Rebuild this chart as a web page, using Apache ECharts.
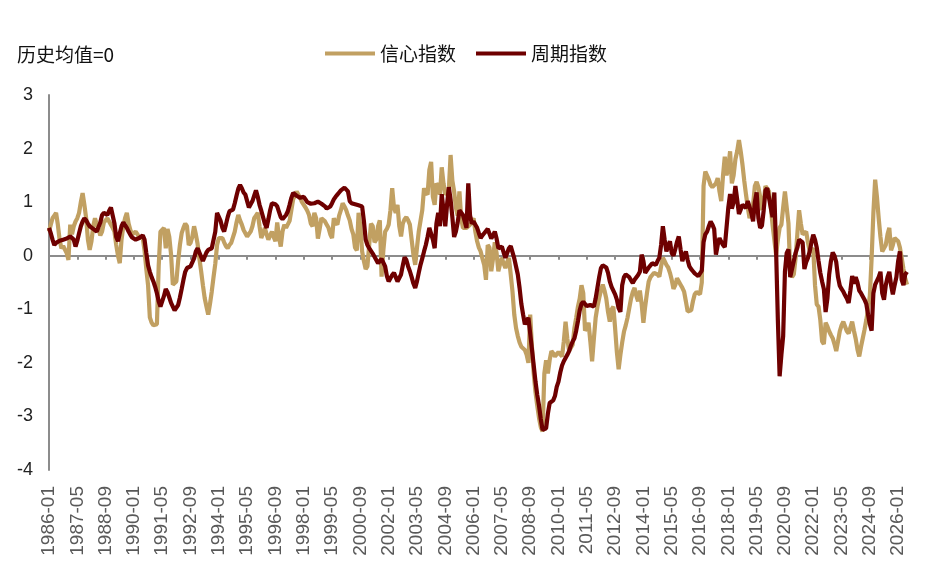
<!DOCTYPE html>
<html>
<head>
<meta charset="utf-8">
<script src="https://cdn.jsdelivr.net/npm/echarts@6/dist/echarts.min.js"></script>
<style>html,body{margin:0;padding:0;background:#fff}#c{width:929px;height:569px}</style>
</head>
<body>
<div id="c"></div>
<script>
// Monthly categories 1986-01 .. 2026-06
var startYear = 1986, startMonth = 1, monthCount = 486;
var categories = [];
for (var k = 0; k < monthCount; k++) {
  var y = startYear + Math.floor((startMonth - 1 + k) / 12);
  var m = (startMonth - 1 + k) % 12 + 1;
  categories.push(y + '-' + (m < 10 ? '0' + m : m));
}
var seriesNames = ['信心指数', '周期指数'];
var yTicks = { min: -4, max: 3, step: 1 };

// 信心指数 (one row per year)
var confidence = [
 .45,.58,.70,.75,.80,.58,.30,.14,.18,.20,.05,-.08,
 .58,.40,.55,.64,.70,.80,1.00,1.17,.95,.70,.30,.11,
 .27,.55,.70,.58,.50,.38,.45,.62,.66,.70,.64,.58,
 .52,.45,.20,.00,-.14,.30,.55,.70,.80,.60,.48,.40,
 .42,.45,.40,.34,.33,.33,.10,-.25,-.55,-1.15,-1.25,-1.30,
 -1.32,-1.28,-.20,.45,.48,.52,.14,.50,.35,.02,-.54,-.52,
 -.48,-.10,.20,.42,.52,.60,.55,.20,.24,.35,.55,.40,
 .22,-.05,-.29,-.55,-.79,-.95,-1.10,-.90,-.67,-.40,-.15,.20,
 .33,.30,.33,.25,.18,.14,.20,.24,.27,.45,.62,.76,
 .66,.58,.48,.42,.36,.33,.45,.55,.70,.75,.80,.55,
 .33,.42,.52,.40,.30,.38,.45,.35,.27,.62,.35,.17,
 .45,.58,.52,.50,.65,.85,1.05,1.12,1.20,1.14,1.08,1.00,
 .95,.90,.84,.76,.60,.55,.80,.70,.32,.50,.70,.68,
 .64,.58,.52,.40,.33,.70,.62,.58,.75,.85,.98,.92,
 .85,.75,.66,.50,.40,.15,.10,.80,.55,.08,-.10,-.25,
 -.20,.20,.60,.55,.25,.30,.55,.66,-.39,.10,.45,.50,
 .58,.85,1.26,.90,.80,.95,.55,.36,.60,.68,.72,.66,
 .58,.30,.02,-.17,.15,.45,.65,.85,1.26,1.18,1.14,1.60,
 1.75,1.10,.95,1.35,1.30,1.14,1.65,1.35,1.14,1.18,1.22,1.88,
 1.40,1.20,.90,.75,1.20,.70,.52,.50,.52,.55,.58,.64,
 .70,.45,.27,.15,.08,-.05,-.17,-.45,.20,.15,-.29,-.05,
 .25,.05,-.29,-.15,-.04,-.15,-.23,-.12,-.04,-.35,-.67,-1.10,
 -1.35,-1.50,-1.62,-1.70,-1.72,-1.76,-1.85,-2.00,-1.10,-1.70,-2.20,-2.55,
 -2.80,-3.03,-3.20,-3.28,-2.20,-1.95,-2.20,-1.95,-1.78,-1.82,-1.88,-1.85,
 -1.80,-1.78,-1.88,-1.60,-1.23,-1.55,-1.78,-1.72,-1.66,-1.35,-1.16,-.95,
 -.80,-.55,-.70,-1.40,-1.35,-1.25,-1.60,-1.97,-1.55,-1.16,-.95,-.79,
 -.65,-.54,-.65,-.80,-1.05,-1.23,-1.00,-.95,-1.35,-1.80,-2.12,-1.85,
 -1.62,-1.42,-1.30,-1.16,-.98,-.80,-.68,-.60,-.75,-.85,-.65,-.90,
 -1.25,-.95,-.70,-.48,-.40,-.36,-.32,-.29,-.35,-.39,-.20,-.04,
 -.10,-.17,-.22,-.32,-.45,-.62,-.55,-.42,-.48,-.54,-.60,-.67,
 -.85,-1.04,-1.06,-1.02,-.85,-.72,-.68,-.67,-.72,-.50,1.30,1.57,
 1.55,1.42,1.32,1.28,1.26,1.35,1.45,1.20,1.02,1.50,1.85,1.50,
 1.65,1.95,1.35,1.50,1.80,1.95,2.16,1.95,1.70,1.40,1.14,.90,
 .70,.82,.95,1.30,1.38,1.28,1.10,.85,1.00,1.30,1.28,1.20,
 .90,.58,.30,.02,.30,.52,.58,.90,1.20,1.22,.60,-.29,
 -.40,-.35,-.05,.40,.85,.60,.40,.42,.45,.25,.08,.10,
 .14,-.55,-.91,-.95,-1.20,-1.60,-1.65,-1.25,-1.32,-1.41,-1.48,-1.54,
 -1.65,-1.78,-1.60,-1.41,-1.30,-1.23,-1.32,-1.41,-1.45,-1.47,-1.23,-1.40,
 -1.55,-1.75,-1.88,-1.70,-1.54,-1.38,-1.20,-1.00,-.75,-.05,.80,1.42,
 1.10,.70,.35,.08,.05,.20,.40,.52,.10,.20,.33,.30,
 .27,.15,-.04,-.25,-.42,-.54
];

// 周期指数 (one row per year)
var cycle = [
 .52,.42,.30,.20,.24,.26,.28,.25,.30,.28,.32,.35,
 .36,.38,.30,.17,.28,.42,.55,.64,.70,.66,.60,.55,
 .52,.50,.48,.45,.45,.62,.76,.80,.78,.76,.84,.90,
 .92,.60,.35,.27,.42,.55,.62,.64,.52,.45,.39,.34,
 .32,.30,.30,.33,.36,.38,.30,.05,-.18,-.30,-.40,-.48,
 -.58,-.70,-.85,-.95,-.98,-.75,-.62,-.68,-.78,-.88,-.95,-1.02,
 -1.04,-.92,-.78,-.62,-.45,-.30,-.23,-.22,-.20,-.17,-.05,.08,
 .14,.06,-.02,-.10,-.02,.06,.11,.13,.14,.16,.45,.80,
 .78,.65,.52,.45,.58,.72,.83,.85,.86,.98,1.12,1.25,
 1.32,1.26,1.18,1.14,1.02,.90,.90,1.02,1.12,1.22,1.10,.95,
 .84,.72,.60,.52,.68,.85,.98,.97,.96,.92,.82,.72,
 .68,.70,.76,.83,.95,1.08,1.17,1.14,1.12,1.10,1.08,1.10,
 1.10,1.05,1.00,.98,.97,.98,.98,1.00,1.01,.99,.97,.95,
 .92,.88,.86,.92,.98,1.05,1.10,1.14,1.18,1.22,1.25,1.27,
 1.29,1.20,1.02,.98,.97,.96,.95,.94,.93,.92,.65,.30,
 .20,.14,.09,.04,-.02,-.08,-.14,-.10,-.06,-.04,-.20,-.38,
 -.48,-.42,-.36,-.32,-.40,-.48,-.50,-.35,-.18,-.03,-.08,-.20,
 -.29,-.40,-.52,-.60,-.48,-.32,-.17,-.05,.08,.20,.35,.52,
 .55,.30,.14,.60,.80,.55,1.15,.85,.55,.95,1.28,1.05,
 .72,.35,.45,.62,.85,.82,.76,.64,.52,1.35,.75,.60,
 .64,.58,.52,.42,.33,.38,.42,.46,.50,.50,.32,.38,
 .45,.32,.14,.16,.17,.06,-.04,.05,.14,.18,.20,-.05,
 -.20,-.35,-.60,-.90,-1.10,-1.28,-1.22,-1.16,-1.45,-1.75,-2.05,-2.35,
 -2.60,-2.80,-3.05,-3.25,-3.28,-3.22,-2.95,-2.75,-2.72,-2.70,-2.62,-2.45,
 -2.35,-2.18,-2.05,-1.97,-1.91,-1.85,-1.78,-1.68,-1.60,-1.54,-1.40,-1.22,
 -1.02,-.90,-.86,-.88,-.94,-.95,-.92,-.93,-.95,-.80,-.60,-.40,
 -.23,-.18,-.17,-.22,-.32,-.48,-.58,-.65,-.72,-.82,-.98,-1.05,
 -.55,-.40,-.35,-.37,-.40,-.46,-.51,-.45,-.42,-.36,-.30,.02,
 -.10,-.32,-.30,-.22,-.18,-.14,-.16,-.17,-.10,-.04,.20,.55,
 .30,.08,.18,.27,.05,.00,.12,.26,.36,.12,-.10,.00,
 .08,-.08,-.20,-.25,-.29,-.33,-.36,-.38,-.39,-.28,.25,.40,
 .45,.55,.64,.58,.50,.02,.20,.33,.26,.20,.16,.14,
 .90,1.15,.88,1.00,1.30,1.05,.78,.86,.95,.92,.89,1.02,
 1.00,.80,.64,1.00,1.18,.70,.52,.56,.85,1.22,1.26,1.25,
 .90,.72,1.18,.10,-1.20,-2.25,-1.85,-1.50,-.30,.05,.12,-.40,
 -.25,-.10,.05,.15,.30,.32,.25,-.25,-.12,-.04,.08,.25,
 .39,.30,.15,-.10,-.32,-.48,-.62,-1.05,-.80,-.35,-.10,.06,
 .00,-.12,-.40,-.56,-.62,-.67,-.74,-.80,-.88,-.65,-.38,-.52,
 -.40,-.50,-.65,-.70,-.73,-.82,-.90,-1.10,-1.28,-1.40,-.70,-.54,
 -.54,-.40,-.30,-.70,-.82,-.55,-.40,-.30,-.55,-.72,-.55,-.40,
 -.10,.08,-.45,-.55,-.35,-.30
];

var colors = ['#C1A062', '#6E0000'];
var chart = echarts.init(document.getElementById('c'), null, { renderer: 'canvas' });
var txtFont = '"Noto Sans CJK SC", "Liberation Sans", sans-serif';
var numFont = '"Liberation Sans", Arial, sans-serif';
chart.setOption({
  animation: false,
  backgroundColor: '#fff',
  textStyle: { fontFamily: txtFont },
  title: {
    text: '历史均值=0', left: 12, top: 40,
    textStyle: { fontSize: 19, fontWeight: 'normal', color: '#111', fontFamily: txtFont }
  },
  legend: {
    top: 39, left: 320,
    itemWidth: 50, itemHeight: 4, itemGap: 20,
    icon: 'rect',
    textStyle: { fontSize: 19, color: '#111', fontFamily: txtFont },
    data: seriesNames
  },
  grid: { left: 49, right: 22, top: 95, bottom: 99, containLabel: false },
  xAxis: [{
    type: 'category', data: categories, boundaryGap: false,
    axisLine: { onZero: true, lineStyle: { color: '#8c8c8c', width: 2 } },
    axisTick: { show: true, interval: 15, length: 4, lineStyle: { color: '#8c8c8c', width: 2 } },
    axisLabel: { show: false },
    splitLine: { show: false }
  }, {
    type: 'category', data: categories, boundaryGap: false, position: 'bottom',
    axisLine: { show: false, onZero: false }, axisTick: { show: false },
    axisLabel: { interval: 15, rotate: 90, fontSize: 19, color: '#595959', margin: 16,
      fontFamily: numFont },
    splitLine: { show: false }
  }],
  yAxis: {
    type: 'value', min: yTicks.min, max: yTicks.max, interval: yTicks.step,
    axisLine: { show: true, lineStyle: { color: '#8c8c8c', width: 2 } },
    axisTick: { show: false },
    splitLine: { show: false },
    axisLabel: { fontSize: 18, color: '#222', margin: 16, fontFamily: numFont }
  },
  series: [{
    name: seriesNames[0], type: 'line', data: confidence, xAxisIndex: 0,
    symbol: 'none', lineStyle: { width: 4.2, color: colors[0] }, itemStyle: { color: colors[0] }
  }, {
    name: seriesNames[1], type: 'line', data: cycle, xAxisIndex: 0,
    symbol: 'none', lineStyle: { width: 4.2, color: colors[1] }, itemStyle: { color: colors[1] }
  }]
});
</script>
</body>
</html>
